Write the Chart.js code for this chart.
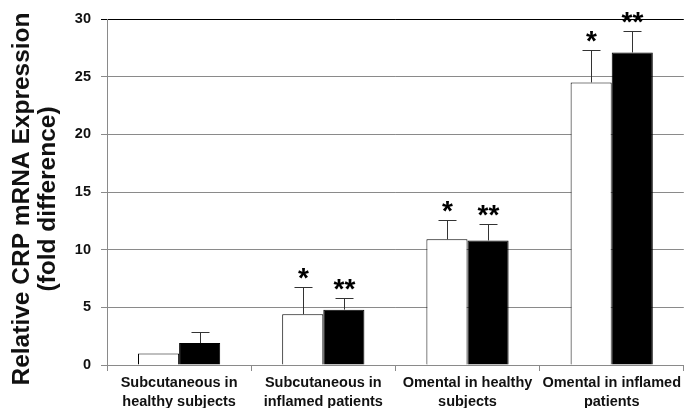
<!DOCTYPE html>
<html>
<head>
<meta charset="utf-8">
<script src="https://cdn.jsdelivr.net/npm/chart.js@4"></script>
<style>
  html, body { margin: 0; padding: 0; background: #ffffff; }
  #wrap { width: 684px; height: 408px; position: relative; }
</style>
</head>
<body>
<div id="wrap"><canvas id="crpChart"></canvas></div>
<script>
// categories and values
const categories = [
    ['Subcutaneous in', 'healthy subjects'],
    ['Subcutaneous in', 'inflamed patients'],
    ['Omental in healthy', 'subjects'],
    ['Omental in inflamed', 'patients']
];
const whiteValues = [1.0, 4.4, 10.9, 24.5];
const whiteErrors = [0, 2.4, 1.7, 2.8];
const blackValues = [1.9, 4.8, 10.8, 27.1];
const blackErrors = [1.0, 1.0, 1.4, 1.9];
const whiteMarks = ['', '*', '*', '*'];
const blackMarks = ['', '**', '**', '**'];
const yTicks = [0, 5, 10, 15, 20, 25, 30];
const yTitle = ['Relative CRP mRNA Expression', '(fold difference)'];

const gridGray = '#8a8a8a';
const fontFamily = '"Liberation Sans", Arial, sans-serif';

// error bars (upper only) and significance stars
const errorBarPlugin = {
    id: 'errorBars',
    afterDatasetsDraw(chart) {
        const ctx = chart.ctx;
        const yScale = chart.scales.y;
        const sets = [
            { values: whiteValues, errors: whiteErrors, marks: whiteMarks },
            { values: blackValues, errors: blackErrors, marks: blackMarks }
        ];
        ctx.save();
        sets.forEach((set, di) => {
            const meta = chart.getDatasetMeta(di);
            meta.data.forEach((bar, i) => {
                const x = Math.round(bar.x) + 0.5;
                const yTop = yScale.getPixelForValue(set.values[i]);
                const yErr = Math.round(yScale.getPixelForValue(set.values[i] + set.errors[i])) + 0.5;
                if (set.errors[i] > 0) {
                    ctx.strokeStyle = '#333333';
                    ctx.lineWidth = 1;
                    ctx.beginPath();
                    ctx.moveTo(x, yTop);
                    ctx.lineTo(x, yErr);
                    ctx.moveTo(x - 9, yErr);
                    ctx.lineTo(x + 9, yErr);
                    ctx.stroke();
                }
                if (set.marks[i]) {
                    ctx.fillStyle = '#000000';
                    ctx.font = 'bold 28px ' + fontFamily;
                    ctx.textAlign = 'center';
                    ctx.textBaseline = 'alphabetic';
                    ctx.fillText(set.marks[i], x, yErr - 1);
                }
            });
        });
        ctx.restore();
    }
};

// rotated two-line y axis title
const yTitlePlugin = {
    id: 'yTitle',
    afterDraw(chart) {
        const ctx = chart.ctx;
        ctx.save();
        ctx.translate(0, 199);
        ctx.rotate(-Math.PI / 2);
        ctx.fillStyle = '#111111';
        ctx.font = 'bold 24.5px ' + fontFamily;
        ctx.textAlign = 'center';
        ctx.textBaseline = 'middle';
        ctx.fillText(yTitle[0], 0, 22);
        ctx.fillText(yTitle[1], 0, 48);
        ctx.restore();
    }
};

new Chart(document.getElementById('crpChart'), {
    type: 'bar',
    data: {
        labels: categories,
        datasets: [{
            data: whiteValues,
            backgroundColor: '#ffffff',
            borderColor: '#000000',
            borderWidth: 1,
            borderSkipped: 'bottom'
        }, {
            data: blackValues,
            backgroundColor: '#000000',
            borderColor: '#000000',
            borderWidth: 1,
            borderSkipped: 'bottom'
        }]
    },
    options: {
        responsive: true,
        maintainAspectRatio: false,
        animation: false,
        events: [],
        layout: {
            padding: { left: 0, right: 0, top: 19, bottom: 0 }
        },
        datasets: {
            bar: {
                categoryPercentage: 0.57,
                barPercentage: 1.0
            }
        },
        plugins: {
            legend: { display: false },
            tooltip: { enabled: false }
        },
        scales: {
            x: {
                grid: {
                    offset: true,
                    drawOnChartArea: false,
                    drawTicks: true,
                    tickLength: 6,
                    color: gridGray
                },
                border: { color: gridGray },
                ticks: {
                    color: '#111111',
                    maxRotation: 0,
                    autoSkip: false,
                    padding: 3,
                    font: { family: fontFamily, size: 14.5, weight: 'bold', lineHeight: 1.27 }
                },
                afterFit(scale) { scale.height = 43; }
            },
            y: {
                min: 0,
                max: 30,
                afterBuildTicks(scale) {
                    scale.ticks = yTicks.map(v => ({ value: v }));
                },
                grid: {
                    tickLength: 6,
                    color: ctx => (ctx.tick && ctx.tick.value === 30 ? '#000000' : gridGray)
                },
                border: { color: gridGray },
                ticks: {
                    color: '#111111',
                    padding: 10,
                    font: { family: fontFamily, size: 14.5, weight: 'bold' }
                },
                afterFit(scale) { scale.width = 107; }
            }
        }
    },
    plugins: [errorBarPlugin, yTitlePlugin]
});
</script>
</body>
</html>
